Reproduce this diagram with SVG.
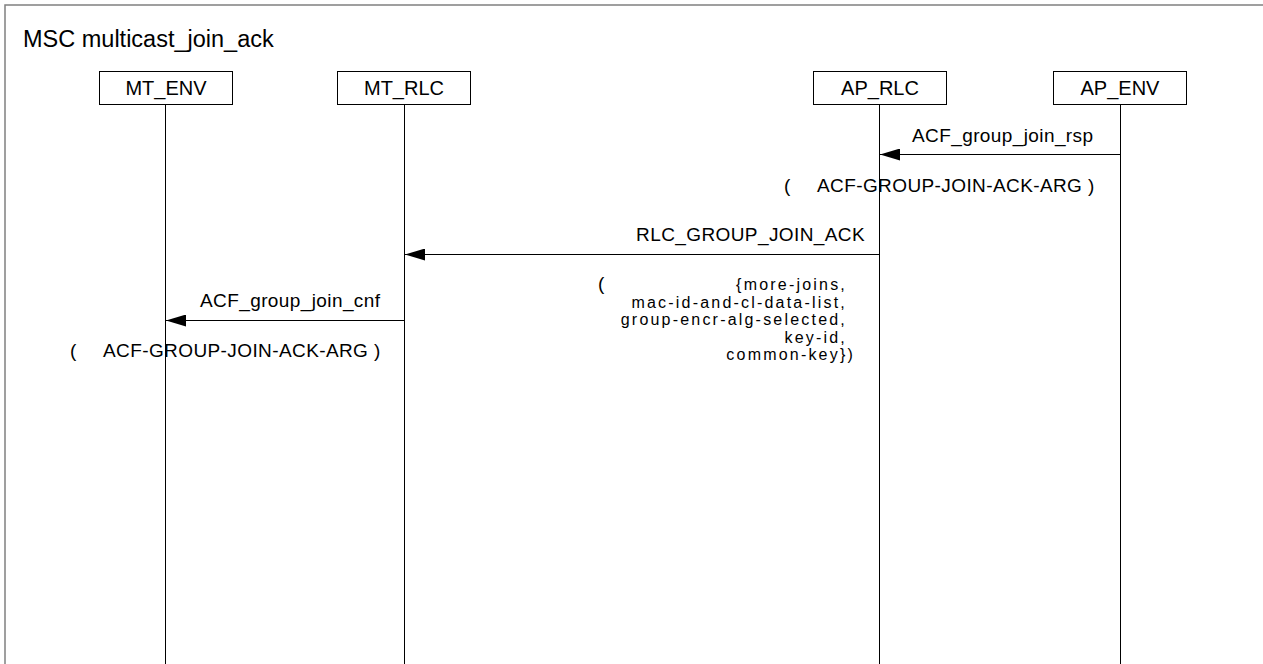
<svg xmlns="http://www.w3.org/2000/svg" width="1263" height="664" viewBox="0 0 1263 664">
<style>
text{font-family:"Liberation Sans",Arial,sans-serif;fill:#000}
.t{font-size:23.5px}
.b{font-size:20px;text-anchor:middle}
.m{font-size:19px;letter-spacing:0.4px}
.p{font-size:16px;letter-spacing:2.2px;text-anchor:end}
.e{text-anchor:end}
.box{fill:#fff;stroke:#000;stroke-width:1}
.ll{stroke:#000;stroke-width:1}
.msg{stroke:#000;stroke-width:1;fill:none;marker-end:url(#ah)}
</style>
<defs>
<marker id="ah" markerUnits="userSpaceOnUse" markerWidth="20" markerHeight="12" refX="20" refY="6" orient="auto">
<path d="M0,0 L20,6 L0,12 Z" fill="#000"/>
</marker>
</defs>
<rect x="5" y="5" width="1270" height="680" fill="#fff" stroke="#808080" stroke-width="1.5"/>
<text class="t" x="23" y="47">MSC multicast_join_ack</text>
<g id="MT_ENV">
<line class="ll" x1="165.5" y1="105" x2="165.5" y2="664"/>
<rect class="box" x="99.5" y="71.5" width="133" height="33"/>
<text class="b" x="166" y="95">MT_ENV</text>
</g>
<g id="MT_RLC">
<line class="ll" x1="404.5" y1="105" x2="404.5" y2="664"/>
<rect class="box" x="337.5" y="71.5" width="133" height="33"/>
<text class="b" x="404" y="95">MT_RLC</text>
</g>
<g id="AP_RLC">
<line class="ll" x1="879.5" y1="105" x2="879.5" y2="664"/>
<rect class="box" x="813.5" y="71.5" width="133" height="33"/>
<text class="b" x="880" y="95">AP_RLC</text>
</g>
<g id="AP_ENV">
<line class="ll" x1="1120.5" y1="105" x2="1120.5" y2="664"/>
<rect class="box" x="1053.5" y="71.5" width="133" height="33"/>
<text class="b" x="1120" y="95">AP_ENV</text>
</g>
<g id="connectors">
<line class="msg" x1="1120.5" y1="154.5" x2="880" y2="154.5"/>
<line class="msg" x1="879.5" y1="254.5" x2="405" y2="254.5"/>
<line class="msg" x1="404.5" y1="320.5" x2="166" y2="320.5"/>
</g>
<g id="labels">
<text class="m" x="912" y="142">ACF_group_join_rsp</text>
<text class="m" x="784" y="192">(</text>
<text class="m" x="817" y="192">ACF-GROUP-JOIN-ACK-ARG )</text>
<text class="m e" x="865" y="241">RLC_GROUP_JOIN_ACK</text>
<text class="m" x="598" y="290">(</text>
<text class="p"><tspan x="847" y="290">{more-joins,</tspan><tspan x="847" y="307.5">mac-id-and-cl-data-list,</tspan><tspan x="847" y="325">group-encr-alg-selected,</tspan><tspan x="847" y="342.5">key-id,</tspan><tspan x="855" y="360">common-key})</tspan></text>
<text class="m" x="200" y="307">ACF_group_join_cnf</text>
<text class="m" x="70" y="357">(</text>
<text class="m" x="103" y="357">ACF-GROUP-JOIN-ACK-ARG )</text>
</g>
</svg>
